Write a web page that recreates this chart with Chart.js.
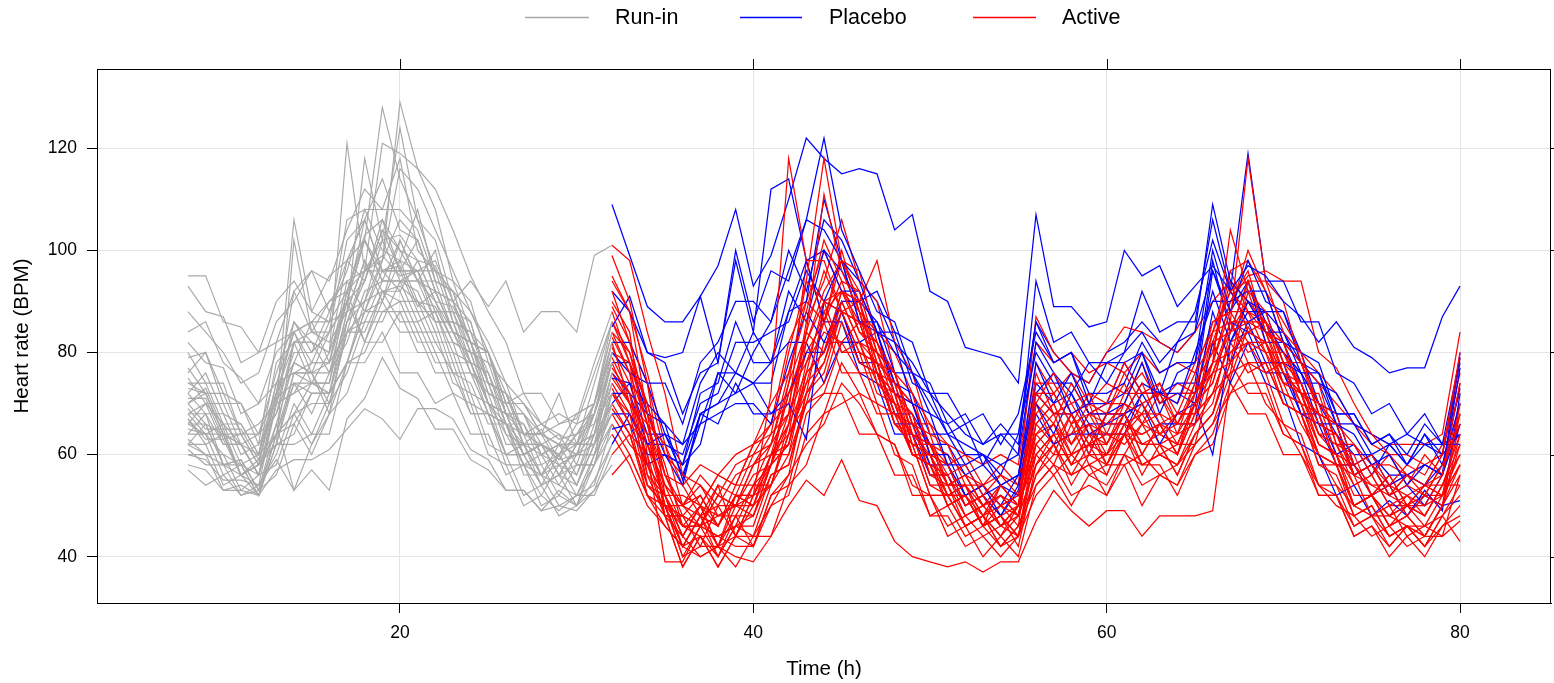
<!DOCTYPE html>
<html><head><meta charset="utf-8">
<script src="https://cdn.jsdelivr.net/npm/chart.js@4.4.1/dist/chart.umd.min.js"></script>
<style>html,body{margin:0;padding:0;background:#fff;overflow:hidden}#wrap{width:1554px;height:683px;position:relative}</style>
</head><body><div id="wrap"><canvas id="c" width="1554" height="683"></canvas></div>
<script>
// ---------- data ----------
const runinHours = [8,9,10,11,12,13,14,15,16,17,18,19,20,21,22,23,24,25,26,27,28,29,30,31,32];
const treatHours = [32,33,34,35,36,37,38,39,40,41,42,43,44,45,46,47,48,49,50,51,52,53,54,55,56,57,58,59,60,61,62,63,64,65,66,67,68,69,70,71,72,73,74,75,76,77,78,79,80];
const xTickValues = [20,40,60,80];
const yTickValues = [40,60,80,100,120];
const groupLabels = ['Run-in','Placebo','Active'];
const xTitle = 'Time (h)';
const yTitle = 'Heart rate (BPM)';

const runin = [
 [95,95,86,85,80, 90,94,88,95,98, 106,96,97,89,92, 84,82,72,70,62, 65,59,64,68,82],
 [93,88,87,78,80, 82,92,84,90,92, 103,106,100,98,90, 89,82,80,70,70, 64,66,67,78,88],
 [84,86,78,75,70, 80,84,86,78,94, 96,102,103,98,97, 88,86,74,72,64, 66,63,64,70,86],
 [82,78,77,68,70, 74,84,78,86,88, 98,92,93,90,89, 82,80,70,68,60, 62,59,60,64,78],
 [79,80,72,70,64, 76,86,82,80,98, 102,128,114,106,96, 94,84,80,68,68, 60,62,60,70,80],
 [77,72,72,64,64, 68,82,74,80,121, 96,99,95,96,88, 88,78,76,66,64, 56,60,54,64,74],
 [74,74,66,66,60, 74,76,78,78,92, 96,121,119,116,112, 104,95,88,82,72, 72,66,68,70,84],
 [72,68,68,60,62, 68,78,76,76,86, 96,98,129,116,108, 94,90,78,74,64, 64,62,62,64,76],
 [70,72,64,62,56, 70,72,74,74,88, 118,102,124,106,102, 90,86,74,72,62, 62,56,58,58,72],
 [70,66,64,56,58, 64,74,68,76,82, 92,94,94,86,88, 78,78,68,66,58, 58,52,58,58,70],
 [68,68,62,62,56, 70,106,88,86,92, 102,94,94,96,98, 90,94,89,94,84, 88,88,84,99,101],
 [67,62,64,56,58, 62,102,84,82,88, 98,90,102,94,90, 82,80,70,68,60, 62,56,62,62,76],
 [66,66,58,59,53, 64,68,70,70,84, 86,94,94,92,84, 84,76,74,64,62, 54,56,50,60,68],
 [65,64,64,56,58, 62,74,72,72,78, 88,88,90,82,82, 76,76,68,66,58, 60,54,60,60,72],
 [64,64,56,58,52, 64,66,72,72,86, 94,104,96,96,86, 86,78,76,66,66, 58,60,54,62,70],
 [63,60,60,53,56, 58,68,62,70,76, 86,86,94,94,92, 84,82,70,66,56, 56,50,52,54,66],
 [62,62,54,56,52, 62,62,64,64,78, 80,88,88,88,80, 80,70,68,58,58, 50,52,50,58,64],
 [61,58,58,52,54, 60,70,64,72,78, 90,92,92,84,84, 74,72,62,60,52, 54,48,50,53,62],
 [60,60,53,54,52, 62,64,72,72,84, 84,92,86,86,78, 78,68,68,60,60, 54,56,54,62,68],
 [57,54,56,52,53, 56,66,60,68,72, 82,82,88,80,80, 72,70,60,58,50, 52,49,52,52,60],
 [72,76,68,66,60, 78,82,84,84,102, 106,114,104,102,92, 90,80,78,68,68, 62,64,58,68,78],
 [76,80,70,70,62, 82,84,86,86,106, 108,108,108,104,94, 92,82,80,70,70, 64,72,62,74,86],
 [68,64,66,58,60, 64,82,82,80,90, 106,96,96,102,92, 84,82,74,72,64, 64,58,60,60,74],
 [74,72,64,64,58, 74,76,76,68,86, 90,102,94,94,86, 86,76,72,62,62, 56,58,56,66,72],
 [80,74,74,64,66, 70,80,80,88,96, 108,100,98,90,86, 76,74,66,66,60, 62,60,62,62,76],
 [66,70,62,62,56, 72,78,76,70,84, 88,96,98,108,94, 92,82,80,68,66, 60,62,60,68,78],
 [69,65,65,56,58, 64,76,76,84,90, 102,94,102,94,94, 84,82,72,70,62, 62,60,66,68,82],
 [71,71,63,64,58, 72,82,82,76,90, 94,106,96,96,88, 88,80,80,70,72, 66,68,66,76,86],
 [64,68,58,58,52, 64,68,74,74,92, 82,90,84,84,76, 76,68,68,60,62, 56,62,56,64,70],
 [75,70,70,62,64, 72,84,76,78,84, 96,96,96,88,88, 80,78,70,68,60, 62,56,62,64,80],
 [62,66,58,59,53, 66,53,62,68,78, 78,84,76,76,70, 72,64,64,56,58, 52,58,52,60,66],
 [67,63,63,56,59, 62,76,74,72,78, 88,90,98,96,96, 86,84,74,72,64, 64,62,68,70,82],
 [73,72,64,62,56, 70,72,78,78,90, 82,92,90,90,82, 82,72,70,60,60, 54,60,54,62,68],
 [70,73,65,65,59, 71,74,74,72,88, 90,98,116,112,104, 96,88,80,72,68, 64,62,62,68,80],
 [58,57,53,53,52, 57,59,59,61,65, 69,67,63,69,69, 67,61,59,53,53, 49,50,49,53,58],
 [60,59,55,55,54, 59,53,57,53,67, 71,79,73,71,65, 65,59,57,53,53, 49,53,50,55,62],
 [88,84,80,74,76, 86,90,96,94,104, 112,108,118,100,96, 92,88,82,74,70, 66,64,62,70,84],
 [68,70,66,62,60, 72,92,96,88,98, 94,104,100,94,100, 86,84,76,68,64, 62,60,64,66,78],
 [62,60,58,56,54, 70,86,80,84,90, 102,96,92,98,90, 84,78,70,64,58, 56,54,52,58,66],
 [66,64,60,58,56, 66,78,86,90,94, 88,98,106,102,92, 90,82,74,66,62, 60,58,60,62,72]
];

const placebo = [
 [109,99,89,86,86, 91,97,108,93,99, 110,122,118,115,116, 115,104,107,92,90, 81,80,79,74,107, 89,89,85,86,100, 95,97,89,93,97, 92,97,95,90,87, 82,86,81,79,76, 77,77,87,93],
 [92,88,80,79,80, 91,78,100,86,96, 94,106,122,104,96, 88,86,76,74,66, 68,62,64,60,94, 82,84,78,78,80, 92,84,86,86,106, 92,119,94,94,86, 86,76,74,68,70, 64,68,62,79],
 [85,91,80,78,68, 76,78,98,84,112, 114,98,100,92,92, 84,84,74,72,64, 66,58,64,64,86, 78,80,70,78,78, 80,72,82,84,109, 94,90,84,84,76, 76,68,68,62,64, 58,64,58,73],
 [82,82,74,74,66, 78,82,90,90,86, 96,106,104,98,86, 86,76,76,68,66, 60,60,54,56,78, 70,76,68,68,70, 78,68,76,78,100, 88,98,90,88,78, 76,66,64,58,60, 54,58,56,77],
 [80,76,74,64,62, 66,76,76,74,78, 88,90,110,98,94, 84,82,70,68,58, 58,52,54,52,72, 76,68,70,70,78, 72,72,70,80,90, 90,92,92,82,80, 70,68,58,60,54, 56,54,58,70],
 [78,78,68,66,55, 68,70,76,74,68, 70,63,90,98,86, 84,72,70,60,60, 52,54,48,54,70, 64,72,66,66,68, 74,72,72,70,60, 82,88,88,78,76, 66,66,56,58,52, 54,50,56,66],
 [75,74,64,64,56, 66,68,70,70,66, 78,88,82,90,90, 92,84,82,72,72, 66,68,62,68,84, 78,80,72,72,74, 82,76,78,78,92, 82,90,88,88,80, 78,68,68,62,64, 60,66,62,62],
 [72,72,62,62,60, 70,72,82,82,84, 86,96,90,88,78, 76,66,66,58,58, 52,54,50,56,72, 68,68,60,68,68, 70,62,68,70,88, 78,86,78,78,68, 66,58,58,52,54, 48,52,50,51],
 [68,68,60,60,58, 72,74,86,78,78, 82,82,74,82,82, 84,74,72,64,64, 58,60,56,64,80, 74,74,68,70,72, 80,70,72,72,96, 86,84,76,76,68, 68,60,62,56,62, 58,64,60,64],
 [65,66,58,60,54, 68,70,72,74,74, 88,98,86,86,76, 74,64,64,56,56, 50,52,48,53,68, 62,64,64,64,64, 72,66,66,66,82, 74,82,74,72,62, 60,52,54,48,51, 48,53,49,72],
 [62,68,62,64,58, 68,66,74,68,68, 72,80,80,88,78, 78,68,68,62,62, 56,58,54,56,74, 70,72,64,66,66, 72,72,74,74,98, 84,94,82,82,74, 74,66,66,60,62, 58,62,60,78],
 [70,74,70,66,62, 74,80,76,84,78, 92,86,100,96,90, 86,80,76,70,64, 62,60,58,60,82, 76,72,78,74,80, 84,78,82,88,102, 92,86,88,84,78, 74,72,66,64,62, 64,62,62,64],
 [76,72,68,60,58, 62,76,72,80,86, 100,92,106,102,94, 90,82,78,72,68, 64,62,66,62,86, 80,76,74,80,82, 86,82,80,84,96, 88,94,86,80,76, 70,64,60,60,56, 56,58,56,80]
];

const active = [
 [101,98,84,72,56, 54,48,50,52,72, 118,98,98,88,86, 76,72,60,58,52, 54,48,54,50,70, 76,70,72,70,78, 72,74,68,76,82, 92,94,94,84,80, 68,66,56,58,52, 56,54,60,80],
 [99,90,74,52,46, 44,44,46,54,58, 74,94,118,98,90, 76,72,60,58,50, 52,46,50,48,66, 70,62,68,66,66, 68,74,66,72,78, 104,92,88,78,74, 64,62,54,56,50, 52,50,56,74],
 [95,88,68,58,46, 46,44,46,48,58, 66,84,111,96,88, 74,70,60,60,52, 52,46,54,50,72, 68,68,60,68,68, 74,66,68,68,84, 86,118,94,90,78, 74,62,60,52,54, 48,52,50,70],
 [92,82,68,48,44, 40,42,44,50,54, 64,72,88,92,90, 78,74,62,60,50, 52,46,48,44,64, 68,60,66,58,64, 64,66,60,70,74, 86,86,86,76,74, 64,60,50,52,46, 48,44,50,62],
 [90,84,60,39,39, 46,40,48,42,52, 56,72,78,90,82, 78,66,62,52,52, 46,48,44,50,62, 58,66,58,60,60, 66,60,62,62,76, 78,94,84,82,72, 68,58,56,48,50, 44,46,44,56],
 [88,78,70,56,54, 48,50,50,58,62, 76,88,102,94,92, 80,76,64,62,54, 56,50,52,48,68, 72,66,68,62,70, 68,68,62,70,78, 88,82,82,74,74, 66,64,56,58,52, 54,52,58,66],
 [86,78,58,52,44, 50,42,52,52,60, 64,82,90,88,80, 78,68,66,56,56, 50,52,46,50,60, 64,64,70,62,68, 60,66,64,74,80, 96,88,86,76,72, 62,60,50,52,48, 50,46,52,58],
 [84,76,66,50,46, 46,54,44,52,58, 72,82,92,98,96, 82,76,66,64,54, 54,46,48,42,58, 64,58,60,60,68, 62,62,56,64,68, 80,84,82,72,70, 60,58,48,50,44, 46,42,48,54],
 [83,76,56,48,38, 44,38,44,44,54, 60,76,80,92,84, 82,72,68,56,54, 46,48,42,44,56, 62,56,62,60,66, 58,60,58,66,70, 84,86,84,74,72, 62,60,52,52,46, 48,44,50,64],
 [82,70,64,52,52, 50,56,54,62,64, 80,94,90,80,82, 74,72,62,62,56, 58,52,56,52,72, 72,66,72,64,72, 72,72,66,74,80, 94,84,86,78,78, 70,68,58,60,54, 58,56,62,72],
 [80,78,66,62,50, 52,46,52,52,60, 62,74,78,88,90, 98,82,76,64,62, 54,54,50,52,64, 60,68,62,64,64, 70,64,66,66,78, 80,82,76,78,70, 68,58,58,52,56, 50,54,52,60],
 [79,72,54,50,40, 46,44,42,42,52, 54,68,72,82,76, 76,66,62,52,52, 46,48,42,46,56, 60,60,62,56,64, 62,62,56,64,68, 78,82,80,70,68, 58,56,48,50,44, 46,42,46,50],
 [78,70,66,54,50, 46,52,50,58,60, 72,78,88,80,80, 70,68,60,60,52, 54,50,52,50,74, 74,68,70,68,76, 70,72,70,78,84, 96,98,92,82,78, 68,66,56,58,54, 56,54,60,79],
 [77,72,58,52,42, 48,40,46,46,56, 58,70,74,86,78, 76,66,64,54,54, 48,50,46,50,62, 66,58,64,62,68, 60,66,60,68,72, 82,76,78,70,68, 60,58,50,52,48, 50,48,54,62],
 [76,70,64,50,48, 42,50,44,52,54, 66,74,86,76,76, 68,68,60,60,54, 56,50,52,48,66, 70,62,68,68,74, 66,68,66,72,76, 86,80,82,74,72, 64,64,56,58,52, 56,52,58,66],
 [75,70,56,52,44, 50,48,50,50,60, 66,86,94,106,94, 90,76,72,60,58, 50,52,46,48,58, 62,54,60,58,64, 56,62,60,72,78, 90,95,96,94,94, 80,77,70,64,60, 56,54,54,60],
 [74,68,54,50,40, 42,42,38,44,44, 54,58,68,70,72, 64,62,52,52,44, 46,40,44,40,54, 58,56,58,52,60, 58,58,52,60,62, 72,74,74,64,62, 52,52,44,46,40, 44,40,46,48],
 [73,66,62,50,50, 48,54,52,60,62, 74,84,96,88,86, 76,74,64,62,54, 56,50,54,50,70, 66,74,68,70,70, 78,70,72,72,86, 88,88,80,80,72, 72,62,62,56,60, 54,60,56,70],
 [72,66,52,48,38, 44,38,44,42,50, 52,64,68,78,72, 70,60,58,48,48, 42,44,40,44,52, 56,50,56,54,60, 54,56,54,62,66, 76,78,76,66,64, 54,52,44,46,42, 46,44,50,56],
 [70,64,60,48,48, 46,48,48,54,54, 64,70,82,82,82, 72,70,60,58,50, 52,46,48,44,62, 66,60,62,62,68, 62,64,62,70,74, 86,78,78,70,68, 58,58,50,52,46, 50,48,54,54],
 [69,64,52,50,42, 48,42,50,48,58, 62,76,80,90,82, 80,70,68,58,56, 48,50,46,50,60, 64,58,64,58,66, 64,66,60,68,72, 82,84,82,72,70, 60,58,50,52,48, 52,48,54,64],
 [68,62,58,48,48, 46,52,50,56,58, 68,76,90,92,90, 80,76,66,62,54, 54,48,52,48,66, 62,68,62,68,68, 70,64,68,68,82, 84,94,84,82,72, 70,60,58,52,56, 50,54,52,68],
 [66,60,52,46,42, 40,42,40,39,44, 50,55,52,59,51, 50,43,40,39,38, 39,37,39,39,47, 53,49,46,49,49, 44,48,48,48,49, 75,85,80,74,66, 60,54,50,48,48, 46,46,48,52],
 [60,64,54,52,44, 50,42,48,48,56, 58,72,76,88,80, 78,68,64,54,52, 46,48,44,48,58, 62,56,58,56,64, 58,60,58,64,68, 78,72,72,64,62, 54,54,46,48,44, 46,42,48,43],
 [56,60,52,50,42, 48,46,52,50,60, 60,70,72,72,64, 64,56,56,48,50, 44,46,42,46,54, 58,52,54,52,58, 50,56,54,60,64, 74,68,68,60,60, 52,52,46,48,42, 46,44,50,58],
 [89,82,74,60,56, 50,56,54,62,66, 82,90,100,92,88, 78,76,66,66,58, 60,54,58,54,87, 80,76,74,80,85, 84,82,80,84,90, 94,90,86,82,78, 74,70,66,64,62, 62,62,64,84],
 [84,80,70,56,50, 56,52,58,60,66, 70,84,80,92,86, 82,74,70,62,60, 56,54,56,54,78, 72,76,70,74,72, 76,70,74,72,84, 92,88,84,80,76, 70,66,62,58,58, 56,58,56,68],
 [72,68,62,54,50, 54,50,56,58,64, 68,98,86,94,84, 80,72,70,62,58, 52,54,50,52,76, 68,70,64,66,70, 66,72,64,70,78, 90,96,84,80,74, 66,64,58,54,54, 52,54,56,74],
 [81,74,62,54,46, 50,46,52,50,58, 62,78,84,82,86, 76,70,64,60,52, 52,48,50,46,70, 62,64,66,60,64, 68,62,64,66,72, 76,92,82,76,70, 62,60,54,56,50, 50,50,52,58],
 [94,88,76,62,54, 58,56,60,62,70, 76,90,86,98,92, 84,80,72,66,62, 60,58,60,58,82, 78,80,76,78,76, 80,76,78,76,86, 88,100,92,86,80, 76,72,66,62,60, 60,58,60,76],
 [64,58,50,46,42, 44,40,46,44,50, 56,62,66,74,70, 64,62,54,52,46, 48,44,46,44,60, 56,60,56,58,58, 60,56,58,62,66, 72,78,70,66,60, 54,50,48,44,46, 42,44,44,47],
 [86,80,66,56,48, 52,46,54,54,62, 68,80,86,100,88, 84,74,70,60,58, 50,52,48,50,64, 66,62,66,64,62, 66,64,62,70,76, 84,90,84,76,72, 64,62,56,54,52, 50,52,52,66]
];

// ---------- styles ----------
const FONT = '"Liberation Sans", Arial, Helvetica, sans-serif';
const COLORS = {runin:'#a9a9a9', placebo:'#0000ff', active:'#ff0000'};
Chart.defaults.font.family = FONT;

function pts(hours, vals){ return vals.slice(0, hours.length).map((v,i)=>({x:hours[i], y:v})); }

const datasets = [];
runin.forEach(v => datasets.push({label:groupLabels[0], data:pts(runinHours, v), borderColor:COLORS.runin, borderWidth:1.15}));
let bi = 0;
active.forEach((v, i) => {
  datasets.push({label:groupLabels[2], data:pts(treatHours, v), borderColor:COLORS.active, borderWidth:1.25});
  if (i % 2 === 1 && bi < placebo.length) {
    datasets.push({label:groupLabels[1], data:pts(treatHours, placebo[bi]), borderColor:COLORS.placebo, borderWidth:1.25});
    bi++;
  }
});
while (bi < placebo.length) {
  datasets.push({label:groupLabels[1], data:pts(treatHours, placebo[bi]), borderColor:COLORS.placebo, borderWidth:1.25});
  bi++;
}

const framePlugin = {
  id:'frame',
  afterDraw(chart){
    const {ctx, chartArea:a, scales:{x, y}} = chart;
    ctx.save();
    ctx.strokeStyle = '#000';
    ctx.lineWidth = 1;
    ctx.strokeRect(Math.round(a.left)+0.5, Math.round(a.top)+0.5, Math.round(a.right-a.left)-1, Math.round(a.bottom-a.top));
    ctx.beginPath();
    xTickValues.forEach(v => { const px = Math.round(x.getPixelForValue(v))+0.5; ctx.moveTo(px, a.top-10); ctx.lineTo(px, a.top); });
    yTickValues.forEach(v => { const py = Math.round(y.getPixelForValue(v))+0.5; ctx.moveTo(a.right, py); ctx.lineTo(a.right+10, py); });
    ctx.stroke();
    ctx.restore();
  }
};

const legendPlugin = {
  id:'topLegend',
  afterDraw(chart){
    const ctx = chart.ctx;
    const items = [
      {text:groupLabels[0], color:COLORS.runin, x0:525, x1:589, tx:615},
      {text:groupLabels[1], color:COLORS.placebo, x0:740, x1:802, tx:829},
      {text:groupLabels[2], color:COLORS.active, x0:973, x1:1036, tx:1062}
    ];
    ctx.save();
    ctx.font = '21.5px ' + FONT;
    ctx.textBaseline = 'middle';
    ctx.textAlign = 'left';
    items.forEach(it => {
      ctx.strokeStyle = it.color; ctx.lineWidth = 1.3;
      ctx.beginPath(); ctx.moveTo(it.x0, 17.5); ctx.lineTo(it.x1, 17.5); ctx.stroke();
      ctx.fillStyle = '#000';
      ctx.fillText(it.text, it.tx, 18);
    });
    ctx.restore();
  }
};

new Chart(document.getElementById('c').getContext('2d'), {
  type:'line',
  data:{datasets},
  options:{
    responsive:false,
    animation:false,
    events:[],
    elements:{point:{radius:0, hoverRadius:0}, line:{tension:0, fill:false, borderJoinStyle:'miter', borderCapStyle:'butt'}},
    layout:{padding:{left:0, right:3, top:69, bottom:0}},
    plugins:{legend:{display:false}, tooltip:{enabled:false}},
    scales:{
      x:{
        type:'linear', min:2.85, max:85.15,
        afterBuildTicks(s){ s.ticks = xTickValues.map(v=>({value:v})); },
        afterFit(s){ s.height = 80; },
        grid:{color:'#e5e5e5', lineWidth:1, tickColor:'#000', tickLength:10, tickWidth:1, drawTicks:true},
        border:{display:true, color:'#000', width:1},
        ticks:{color:'#000', font:{size:17.5}, padding:10, maxRotation:0, autoSkip:false},
        title:{display:true, text:xTitle, color:'#000', font:{size:20.5}, padding:{top:0, bottom:1}}
      },
      y:{
        type:'linear', min:30.93, max:135.53,
        afterBuildTicks(s){ s.ticks = yTickValues.map(v=>({value:v})); },
        afterFit(s){ s.width = 97; },
        grid:{color:'#e5e5e5', lineWidth:1, tickColor:'#000', tickLength:10, tickWidth:1, drawTicks:true},
        border:{display:true, color:'#000', width:1},
        ticks:{color:'#000', font:{size:17.5}, padding:10, autoSkip:false},
        title:{display:true, text:yTitle, color:'#000', font:{size:20.5}, padding:{top:10, bottom:0}}
      }
    }
  },
  plugins:[framePlugin, legendPlugin]
});
</script>
</body></html>
